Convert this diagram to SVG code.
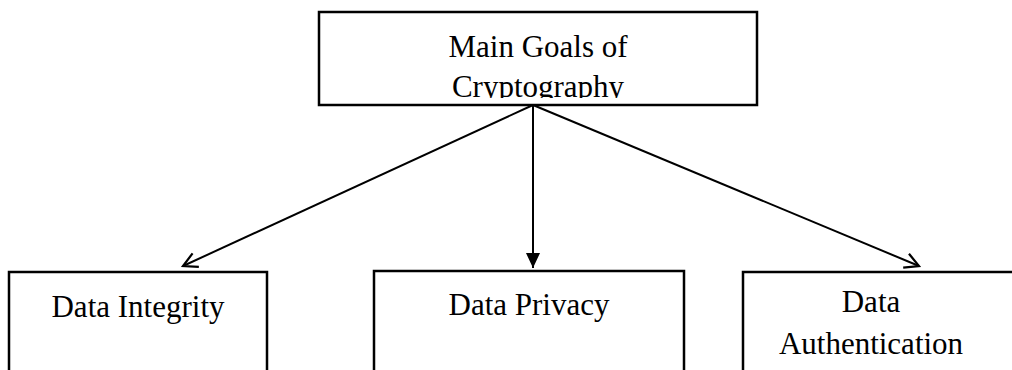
<svg xmlns="http://www.w3.org/2000/svg" width="1012" height="370" viewBox="0 0 1012 370">
  <style>
    .box { fill: #ffffff; stroke: #000000; stroke-width: 2.5; }
    .lbl { font-family: "Liberation Serif", "Times New Roman", serif; font-size: 31px; fill: #000000; text-anchor: middle; }
    .conn { stroke: #000000; stroke-width: 2; fill: none; }
  </style>
  <defs>
    <marker id="openArrow" markerUnits="userSpaceOnUse" markerWidth="18" markerHeight="18" viewBox="0 0 18 18" refX="16" refY="9" orient="auto">
      <path d="M2,1.5 L16,9 L2,16.5" fill="none" stroke="#000000" stroke-width="2.2"/>
    </marker>
    <marker id="solidArrow" markerUnits="userSpaceOnUse" markerWidth="16" markerHeight="16" viewBox="0 0 16 16" refX="15" refY="8" orient="auto">
      <path d="M0,1 L15,8 L0,15 z" fill="#000000"/>
    </marker>
    <clipPath id="topClip">
      <rect x="319" y="12" width="438" height="86"/>
    </clipPath>
  </defs>

  <g id="node-main">
    <rect class="box" x="319" y="12" width="438" height="93"/>
    <g clip-path="url(#topClip)">
      <text class="lbl" x="538" y="57">Main Goals of</text>
      <text class="lbl" x="538" y="97">Cryptography</text>
    </g>
  </g>

  <g id="node-integrity">
    <rect class="box" x="9" y="272" width="258" height="110"/>
    <text class="lbl" x="138" y="317">Data Integrity</text>
  </g>

  <g id="node-privacy">
    <rect class="box" x="374" y="271" width="310" height="110"/>
    <text class="lbl" x="529" y="315">Data Privacy</text>
  </g>

  <g id="node-authentication">
    <rect class="box" x="743" y="272" width="290" height="110"/>
    <text class="lbl" x="871" y="312">Data</text>
    <text class="lbl" x="871" y="354">Authentication</text>
  </g>

  <g id="connectors">
    <line class="conn" x1="533" y1="105" x2="183" y2="266" marker-end="url(#openArrow)"/>
    <line class="conn" x1="533" y1="105" x2="533" y2="268" marker-end="url(#solidArrow)"/>
    <line class="conn" x1="533" y1="105" x2="919" y2="266" marker-end="url(#openArrow)"/>
  </g>
</svg>
